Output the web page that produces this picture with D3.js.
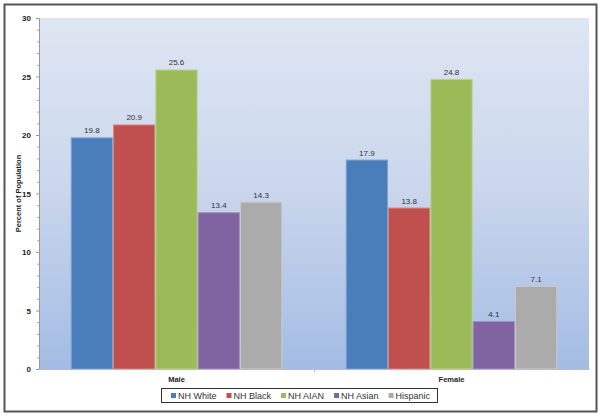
<!DOCTYPE html>
<html lang="en">
  <head>
    <meta charset="UTF-8" />
    <title>Percent of Population</title>
    <script src="https://d3js.org/d3.v7.min.js"></script>
    <style>
      body { margin: 0; background: #fff; }
      svg text { font-family: "Liberation Sans", Arial, sans-serif; }
    </style>
  </head>
  <body>
    <div id="chart"></div>
    <script>
      let width = 604
      let height = 417

      // data
      let groups = ['Male', 'Female']
      let series = ['NH White', 'NH Black', 'NH AIAN', 'NH Asian', 'Hispanic']
      let male = [19.8, 20.9, 25.6, 13.4, 14.3]
      let female = [17.9, 13.8, 24.8, 4.1, 7.1]
      let yTicks = [0, 5, 10, 15, 20, 25, 30]
      let colors = ['#4a7ebb', '#c0504d', '#9bbb59', '#8064a2', '#ababab']
      let strokes = ['#7fa3d2', '#d88683', '#bbd48d', '#a58fc0', '#c9c9c9']

      let values = { Male: male, Female: female }

      let plot = { left: 39, right: 589, top: 18, bottom: 369 }

      let svg = d3.select('#chart')
        .append('svg')
        .attr('width', width)
        .attr('height', height)

      // outer chart border
      svg.append('rect')
        .attr('x', 4.5).attr('y', 4.5)
        .attr('width', 592).attr('height', 407)
        .attr('fill', '#fff')
        .attr('stroke', '#555')
        .attr('stroke-width', 2)

      // plot background gradient
      let grad = svg.append('defs').append('linearGradient')
        .attr('id', 'bg').attr('x1', 0).attr('y1', 0).attr('x2', 0).attr('y2', 1)
      grad.append('stop').attr('offset', '0%').attr('stop-color', '#dfe6f3')
      grad.append('stop').attr('offset', '50%').attr('stop-color', '#c9d6ec')
      grad.append('stop').attr('offset', '100%').attr('stop-color', '#a3bce4')

      svg.append('rect')
        .attr('x', plot.left).attr('y', plot.top)
        .attr('width', plot.right - plot.left)
        .attr('height', plot.bottom - plot.top)
        .attr('fill', 'url(#bg)')

      let y = d3.scaleLinear().domain([0, 30]).range([plot.bottom, plot.top])
      let x0 = d3.scaleBand().domain(groups).range([plot.left, plot.right])
      let x1 = d3.scaleBand().domain(series).range([0, x0.bandwidth()])
        .paddingInner(0).paddingOuter(0.75)

      // bars
      let g = svg.selectAll('g.group')
        .data(groups)
        .enter()
        .append('g')
        .attr('class', 'group')
        .attr('transform', d => `translate(${x0(d)},0)`)

      g.selectAll('rect')
        .data(d => values[d].map((v, i) => ({ s: series[i], v: v, i: i })))
        .enter()
        .append('rect')
        .attr('x', d => x1(d.s) + 0.5)
        .attr('y', d => y(d.v) + 0.5)
        .attr('width', x1.bandwidth() - 1)
        .attr('height', d => y(0) - y(d.v) - 0.5)
        .attr('fill', d => colors[d.i])
        .attr('stroke', d => strokes[d.i])
        .attr('stroke-width', 1)

      g.selectAll('text.val')
        .data(d => values[d].map((v, i) => ({ s: series[i], v: v })))
        .enter()
        .append('text')
        .attr('class', 'val')
        .attr('x', d => x1(d.s) + x1.bandwidth() / 2)
        .attr('y', d => y(d.v) - 4)
        .attr('text-anchor', 'middle')
        .attr('font-size', 8)
        .attr('fill', '#333')
        .text(d => d.v.toFixed(1))

      // y axis
      let yAxis = d3.axisLeft(y)
        .tickValues(yTicks)
        .tickSize(3)
        .tickPadding(5)
        .tickFormat(d3.format('d'))
      let ya = svg.append('g')
        .attr('transform', `translate(${plot.left},0)`)
        .call(yAxis)
      ya.select('.domain').attr('stroke', '#999')
      ya.selectAll('.tick line').attr('stroke', '#999')
      ya.selectAll('.tick text')
        .attr('font-size', 8)
        .attr('font-weight', 'bold')
        .attr('fill', '#222')
        .style('font-family', '"Liberation Sans", Arial, sans-serif')

      // minor ticks
      let minor = d3.range(0, 31).filter(d => d % 5 !== 0)
      svg.selectAll('line.minor')
        .data(minor)
        .enter()
        .append('line')
        .attr('class', 'minor')
        .attr('x1', plot.left - 2).attr('x2', plot.left)
        .attr('y1', d => y(d) + 0.5).attr('y2', d => y(d) + 0.5)
        .attr('stroke', '#aaa')

      // x axis
      let xAxis = d3.axisBottom(x0).tickSize(0).tickPadding(8)
      let xa = svg.append('g')
        .attr('transform', `translate(0,${plot.bottom})`)
        .call(xAxis)
      xa.select('.domain').attr('stroke', '#bbb')
      xa.selectAll('.tick text')
        .attr('font-size', 7.5)
        .attr('font-weight', 'bold')
        .attr('fill', '#222')
        .style('font-family', '"Liberation Sans", Arial, sans-serif')
      // boundary ticks between categories
      svg.selectAll('line.xtick')
        .data(groups.slice(1))
        .enter()
        .append('line')
        .attr('x1', d => x0(d) + 0.5).attr('x2', d => x0(d) + 0.5)
        .attr('y1', plot.bottom).attr('y2', plot.bottom + 3)
        .attr('stroke', '#bbb')

      // y axis title
      svg.append('text')
        .attr('transform', `translate(21,${(plot.top + plot.bottom) / 2}) rotate(-90)`)
        .attr('text-anchor', 'middle')
        .attr('font-size', 7.5)
        .attr('font-weight', 'bold')
        .attr('fill', '#222')
        .text('Percent of Population')

      // legend
      let legend = svg.append('g')
      legend.append('rect')
        .attr('x', 161.5).attr('y', 388.5)
        .attr('width', 276).attr('height', 14)
        .attr('fill', '#fff')
        .attr('stroke', '#333')
        .attr('stroke-width', 1)
      let lx = 171
      let ly = 395.5
      series.forEach((s, i) => {
        legend.append('rect')
          .attr('x', lx).attr('y', ly - 2.5)
          .attr('width', 5).attr('height', 5)
          .attr('fill', colors[i])
        let t = legend.append('text')
          .attr('x', lx + 7).attr('y', ly + 3.2)
          .attr('font-size', 9)
          .attr('fill', '#333')
          .text(s)
        lx += 7 + t.node().getComputedTextLength() + 10
      })
    </script>
  </body>
</html>
